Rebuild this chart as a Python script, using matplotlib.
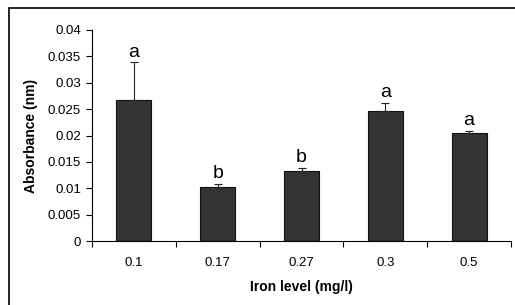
import numpy as np
import matplotlib.pyplot as plt
from matplotlib.patches import Rectangle

plt.rcParams['font.family'] = ['Liberation Sans', 'DejaVu Sans']

categories = ['0.1', '0.17', '0.27', '0.3', '0.5']
values = [0.0267, 0.0103, 0.0133, 0.0246, 0.0204]
errors = [0.0072, 0.0006, 0.0006, 0.0016, 0.0005]
letters = ['a', 'b', 'b', 'a', 'a']

fig = plt.figure(figsize=(5.15, 3.05), dpi=100)
ax = fig.add_axes([92/515, 1-241/305, (511-92)/515, (241-30)/305])

x = np.arange(len(categories))
ax.bar(x, values, width=0.42, color='#333333', edgecolor='#111111', linewidth=0.8,
       yerr=[np.zeros(len(errors)), errors],
       error_kw=dict(ecolor='#222222', elinewidth=0.8, capsize=3, capthick=0.8))

for xi, v, e, lab in zip(x, values, errors, letters):
    ax.annotate(lab, (xi, v + e), xytext=(0, 4), textcoords='offset points',
                ha='center', va='baseline', fontsize=14)

ax.set_xlim(-0.5, len(categories) - 0.5)
ax.set_ylim(0, 0.04)
ax.set_yticks(np.arange(0, 0.0401, 0.005))
ax.set_yticklabels(['0', '0.005', '0.01', '0.015', '0.02', '0.025', '0.03', '0.035', '0.04'])
ax.set_xticks(x)
ax.set_xticklabels(categories)
ax.set_xticks(np.arange(-0.5, len(categories)), minor=True)
ax.tick_params(axis='x', which='major', length=0, pad=11.5, labelsize=9.5)
ax.tick_params(axis='x', which='minor', length=4, width=0.8, direction='out')
ax.tick_params(axis='y', length=4, width=0.8, direction='out', labelsize=9.5, pad=4)

for s in ['top', 'right']:
    ax.spines[s].set_visible(False)
ax.spines['left'].set_linewidth(0.8)
ax.spines['bottom'].set_linewidth(0.8)

ax.set_xlabel('Iron level (mg/l)', fontsize=10, fontweight='bold', labelpad=8)
ax.set_ylabel('Absorbance (nm)', fontsize=10, fontweight='bold', labelpad=7)

# outer chart frame
fig.patches.append(Rectangle((8.5/515, -0.1), 1.2, 1 - 7.5/305 + 0.1, transform=fig.transFigure,
                             fill=False, edgecolor='black', linewidth=1.2, clip_on=False))

fig.savefig('out.png', dpi=100)
